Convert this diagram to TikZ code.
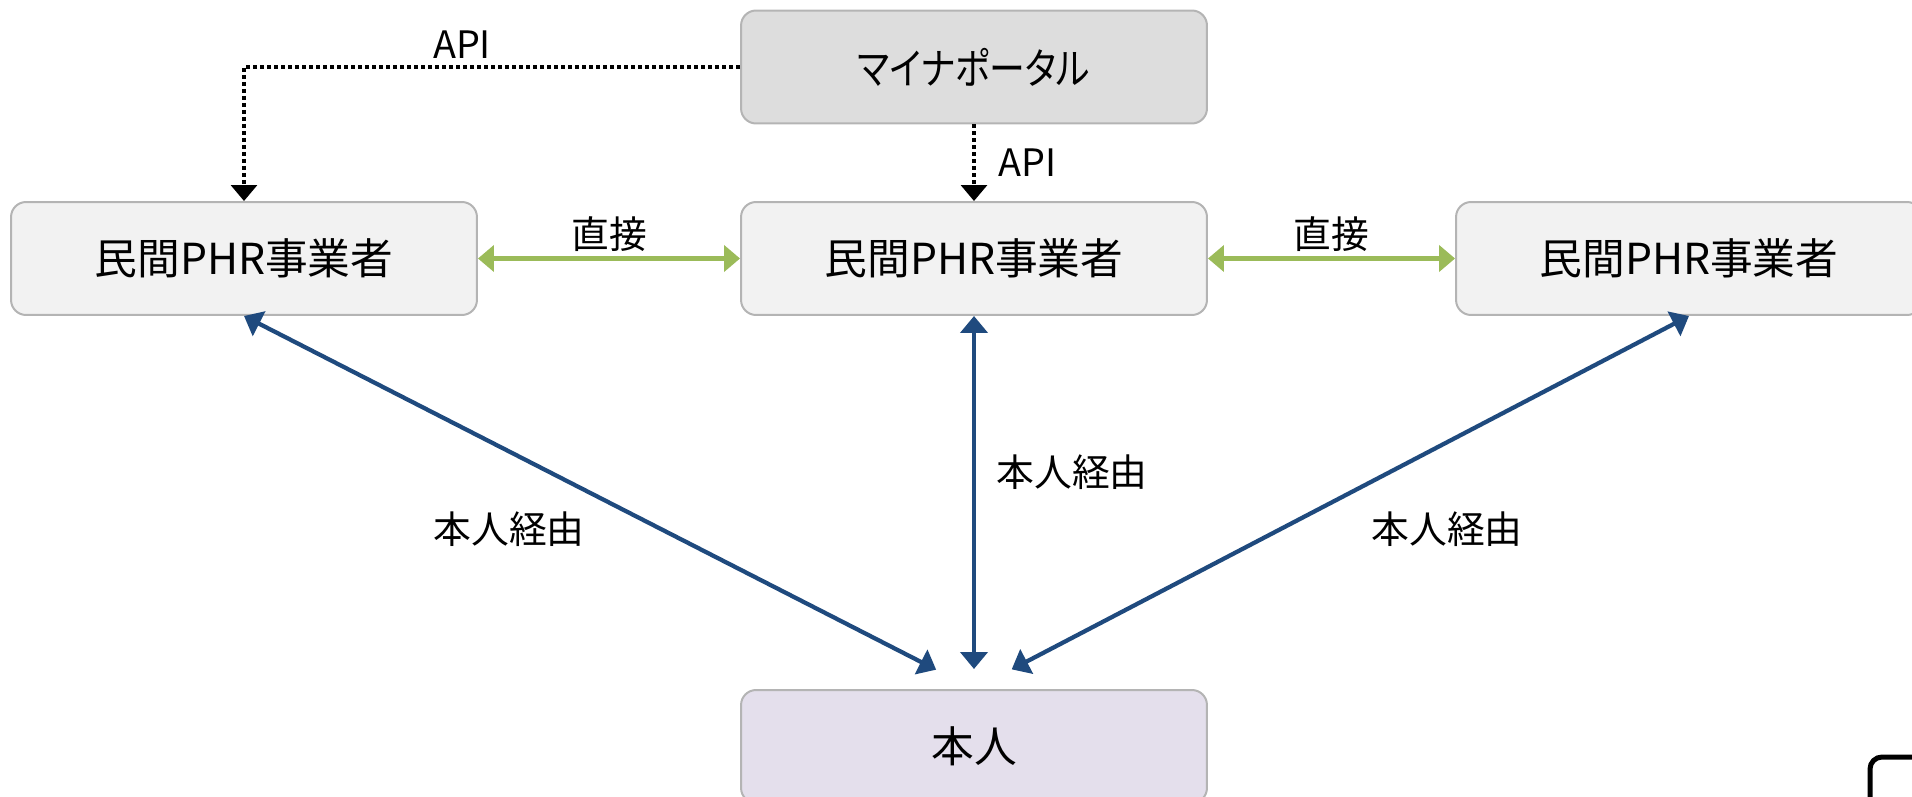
\documentclass[tikz,border=0pt]{standalone}
\usepackage{fontspec}
\setmainfont{Noto Sans CJK JP}
\newfontfamily\kanafont{Noto Sans CJK JP}[RawFeature=+palt]
\usetikzlibrary{arrows.meta}
\definecolor{boxline}{HTML}{B4B4B4}
\definecolor{portalfill}{HTML}{DDDDDD}
\definecolor{phrfill}{HTML}{F2F2F2}
\definecolor{selffill}{HTML}{E4DFEC}
\definecolor{viablue}{HTML}{1F4A7E}
\definecolor{directgreen}{HTML}{9BBB59}

\begin{document}
\begin{tikzpicture}[x=0.02cm, y=-0.02cm,
  box/.style={draw=boxline, line width=0.04cm, rounded corners=0.3cm,
    minimum width=9.32cm, minimum height=2.26cm, font=\fontsize{24.3}{28}\selectfont},
  lbl/.style={font=\fontsize{21.5}{25}\selectfont, inner sep=0pt},
  apiarrow/.style={line width=0.065cm, dash pattern=on 0.08cm off 0.06cm,
    -{Triangle[length=0.32cm, width=0.52cm]}},
  direct/.style={directgreen, line width=0.1cm,
    {Triangle[length=0.32cm, width=0.52cm]}-{Triangle[length=0.32cm, width=0.52cm]}},
  via/.style={viablue, line width=0.085cm,
    {Triangle[length=0.34cm, width=0.54cm]}-{Triangle[length=0.34cm, width=0.54cm]}}]
\useasboundingbox (0,0) rectangle (1912,797);

% boxes
\node[box, fill=portalfill] (portal) at (974,67) {\scalebox{0.84}[1]{\kanafont マイナポータル}};
\node[box, fill=phrfill] (phrleft) at (244,258.5) {民間PHR事業者};
\node[box, fill=phrfill] (phrmid) at (974,258.5) {民間PHR事業者};
\node[box, fill=phrfill] (phrright) at (1689,258.5) {民間PHR事業者};
\node[box, fill=selffill] (self) at (974,746.5) {本人};

% API
\draw[apiarrow] (portal.west) -| (phrleft.north);
\node[lbl] (apitop) at (462,45) {API};
\draw[apiarrow] (portal.south) -- (phrmid.north);
\node[lbl, anchor=west] (apimid) at (998,163) {API};

% direct links
\draw[direct] (phrleft.east) -- (phrmid.west);
\node[lbl] (directleft) at (609,234) {直接};
\draw[direct] (phrmid.east) -- (phrright.west);
\node[lbl] (directright) at (1331,234) {直接};

% via the person
\draw[via, shorten >=0.85cm] (phrleft.south) -- (self.north);
\node[lbl] (vialeft) at (509,529) {本人経由};
\draw[via, shorten >=0.4cm] (phrmid.south) -- (self.north);
\node[lbl] (viamid) at (1072,472) {本人経由};
\draw[via, shorten >=0.85cm] (phrright.south) -- (self.north);
\node[lbl] (viaright) at (1447,529) {本人経由};

% corner of icon
\draw[line width=0.1cm, rounded corners=0.24cm] (1870,850) -- (1870,757) -- (1960,757);
\end{tikzpicture}
\end{document}
